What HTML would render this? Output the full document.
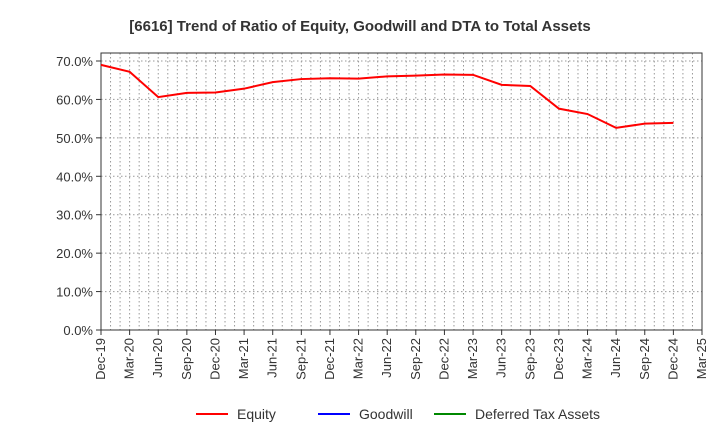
<!DOCTYPE html>
<html><head><meta charset="utf-8"><style>
body{margin:0;background:#fff;font-family:"Liberation Sans",sans-serif}
</style></head><body>
<svg id="c" width="720" height="440" xmlns="http://www.w3.org/2000/svg">
<text x="360" y="31" text-anchor="middle" font-size="15" font-weight="bold" fill="#333">[6616]  Trend of Ratio of Equity, Goodwill and DTA to Total Assets</text>
<g id="grid"></g><g id="axes"></g><g id="series"></g>
<g font-size="14" fill="#333">
<line x1="196" y1="414" x2="228" y2="414" stroke="#f00" stroke-width="2"/><text x="237" y="419">Equity</text>
<line x1="318" y1="414" x2="350" y2="414" stroke="#00f" stroke-width="2"/><text x="359" y="419">Goodwill</text>
<line x1="434" y1="414" x2="466" y2="414" stroke="#080" stroke-width="2"/><text x="475" y="419">Deferred Tax Assets</text>
</g>
</svg>
<script>
const categories=["Dec-19","Mar-20","Jun-20","Sep-20","Dec-20","Mar-21","Jun-21","Sep-21","Dec-21","Mar-22","Jun-22","Sep-22","Dec-22","Mar-23","Jun-23","Sep-23","Dec-23","Mar-24","Jun-24","Sep-24","Dec-24","Mar-25"];
const equity=[69.0,67.2,60.6,61.7,61.8,62.8,64.5,65.3,65.5,65.4,66.0,66.2,66.5,66.4,63.8,63.5,57.6,56.2,52.6,53.7,53.9];
const yTicks=[0,10,20,30,40,50,60,70];
const L=101,R=702,T=53,B=330,NS="http://www.w3.org/2000/svg";
const xs=i=>L+(R-L)*i/(categories.length-1);
const ys=v=>B-(B-61)*v/70;
function mk(t,a,p){const e=document.createElementNS(NS,t);for(const k in a)e.setAttribute(k,a[k]);p.appendChild(e);return e;}
const g=document.getElementById('grid'),ax=document.getElementById('axes'),s=document.getElementById('series');
for(let m=1;m<(categories.length-1)*3;m++){const x=L+(R-L)*m/((categories.length-1)*3);
const l=mk('line',{x1:x,x2:x,y1:T,y2:B,stroke:'#999','stroke-dasharray':'1.5,2.5'},g);
}
yTicks.forEach(v=>{const y=ys(v);
const l=mk('line',{x1:L,x2:R,y1:y,y2:y,stroke:'#999','stroke-dasharray':'1.5,2.5'},g);

mk('line',{x1:L-5,x2:L,y1:y,y2:y,stroke:'#333'},ax);
const t=mk('text',{x:L-8,y:y+5,'text-anchor':'end','font-size':13,fill:'#333'},ax);t.textContent=v.toFixed(1)+'%';
});
categories.forEach((c,i)=>{const x=xs(i);
mk('line',{x1:x,x2:x,y1:B,y2:B+5,stroke:'#333'},ax);
const t=mk('text',{x:x+4,y:B+8,'text-anchor':'end','font-size':13,fill:'#333',transform:`rotate(-90 ${x+4} ${B+8})`},ax);t.textContent=c;
});
const f=mk('rect',{x:L,y:T,width:R-L,height:B-T,fill:'none',stroke:'#333'},ax);

const p=mk('polyline',{points:equity.map((v,i)=>xs(i)+','+ys(v)).join(' '),fill:'none',stroke:'#f00','stroke-width':2},s);

</script>
</body></html>
